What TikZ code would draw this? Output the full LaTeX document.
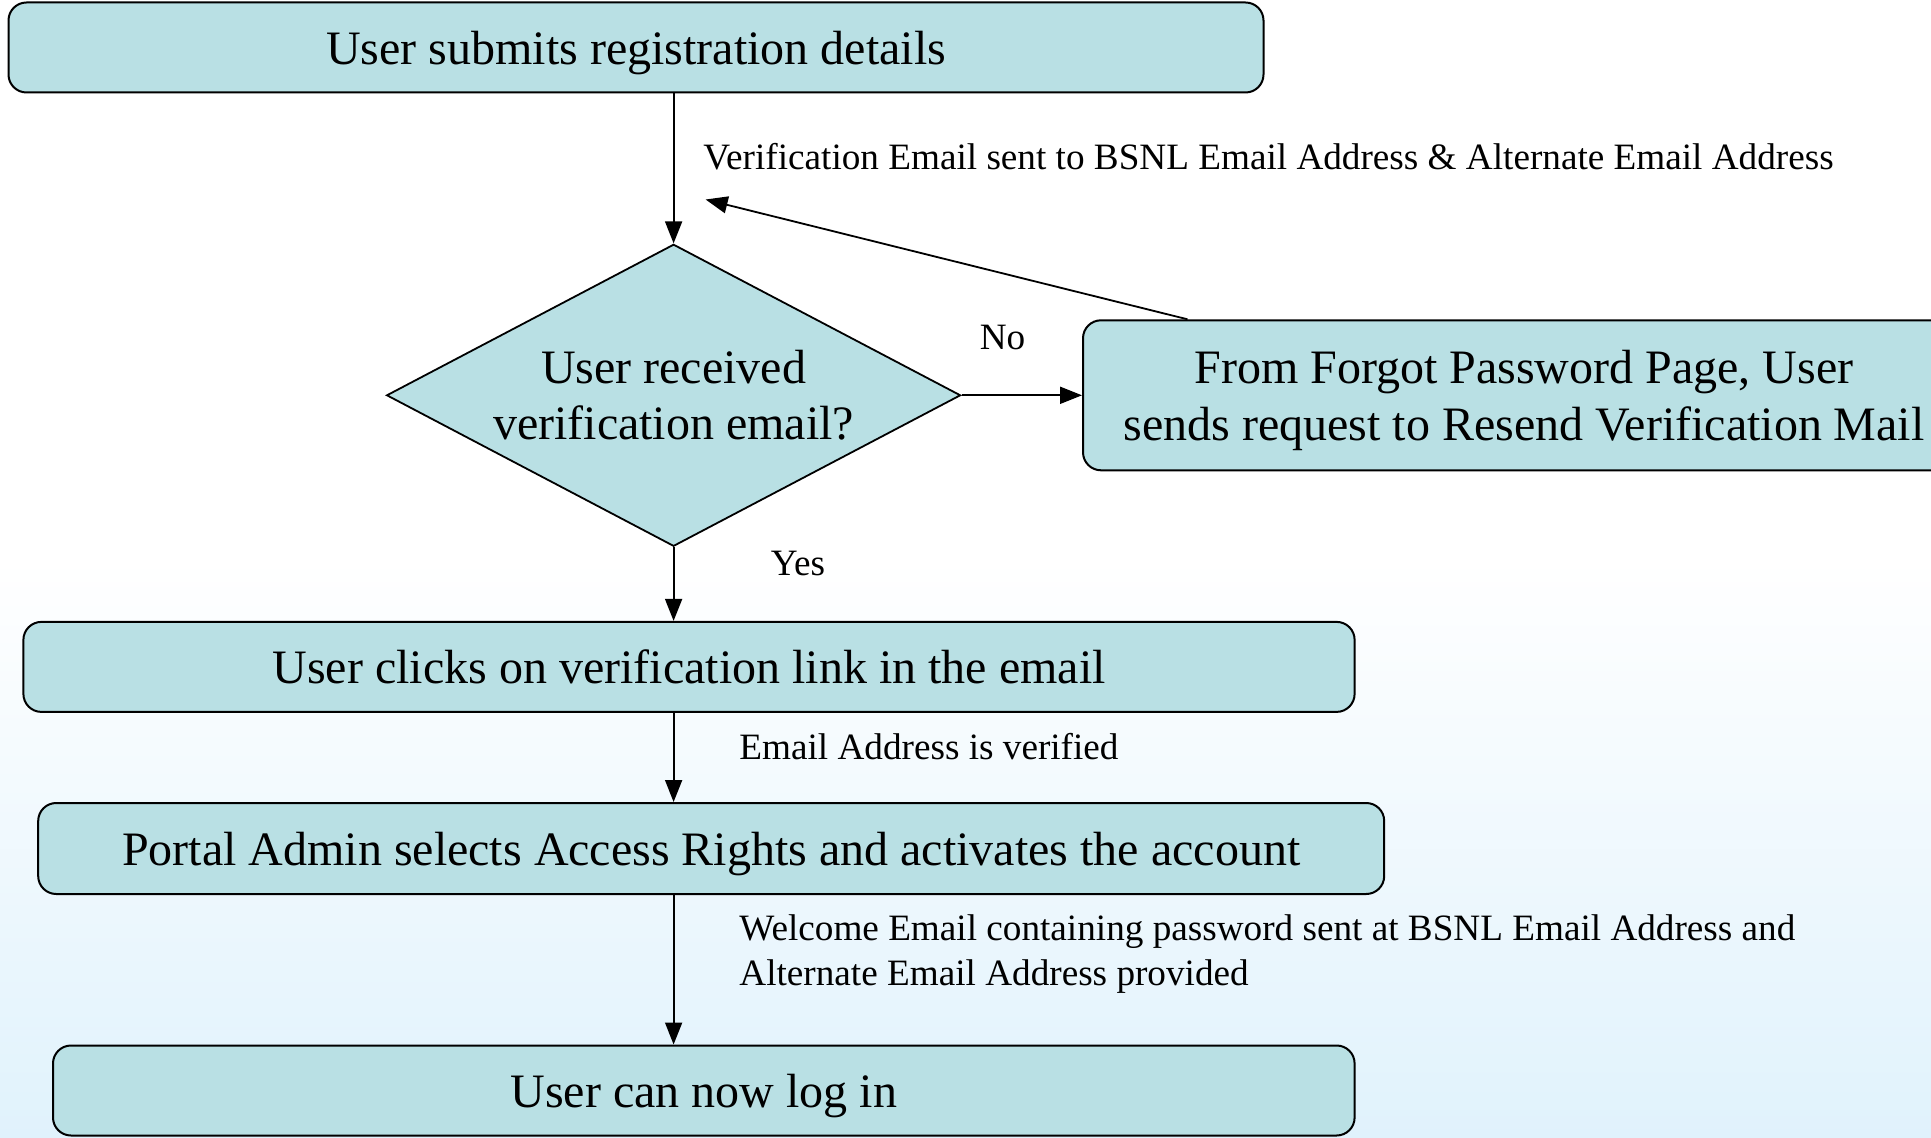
\documentclass[tikz,border=0pt]{standalone}
\usepackage{fontspec}
\setmainfont{Liberation Serif}
\usetikzlibrary{arrows.meta,shapes.geometric}
\definecolor{boxfill}{RGB}{185,224,228}
\definecolor{bgblue}{RGB}{224,242,252}
\tikzset{
  flowbox/.style={draw=black,line width=1pt,fill=boxfill,rounded corners=9pt,inner sep=0pt,
    text depth=0pt,font=\fontsize{24}{28.3}\selectfont,align=center},
  decision/.style={diamond,draw=black,line width=0.9pt,fill=boxfill,inner sep=0pt,shape aspect=1.9,
    minimum width=287pt,minimum height=151pt,font=\fontsize{24}{28.3}\selectfont,align=center},
  lbl/.style={inner sep=0pt,font=\fontsize{18.6}{22.8}\selectfont,align=left},
  arr/.style={line width=0.9pt,-{Triangle[length=11pt,width=8.5pt]}}
}
\begin{document}
\begin{tikzpicture}[x=0.5pt,y=-0.5pt]
\useasboundingbox (0,0) rectangle (1931,1138);
\clip (0,0) rectangle (1931,1138);
\fill[white] (0,0) rectangle (1931,560);
\shade[top color=white,bottom color=bgblue] (0,559) rectangle (1931,1138);

\node[flowbox,minimum width=627.5pt,minimum height=45pt] (b1) at (636,47.5) {User submits registration details};
\node[decision] (d) at (673.6,395.3) {User received\\verification email?};
\node[flowbox,minimum width=441pt,minimum height=75pt] (b2) at (1524,395.3) {From Forgot Password Page, User\\sends request to Resend Verification Mail};
\node[flowbox,minimum width=665.6pt,minimum height=45pt] (b3) at (689,666.9) {User clicks on verification link in the email};
\node[flowbox,minimum width=673pt,minimum height=45.5pt] (b4) at (711.2,848.5) {Portal Admin selects Access Rights and activates the account};
\node[flowbox,minimum width=650.8pt,minimum height=45pt] (b5) at (703.8,1090.5) {User can now log in};

\coordinate (fb) at (705.6,199.5);

\draw[arr] (b1.south -| d.north) -- (d.north);
\draw[arr] (d.east) -- (b2.west);
\draw[arr] ([xshift=52.75pt]b2.north west) -- (fb);
\draw[arr] (d.south) -- (b3.north -| d.south);
\draw[arr] (b3.south -| d.south) -- (b4.north -| d.south);
\draw[arr] (b4.south -| d.south) -- (b5.north -| d.south);

\node[lbl,anchor=west] (l1) at (703,156.4) {Verification Email sent to BSNL Email Address \& Alternate Email Address};
\node[lbl] (lno) at (1002.5,337.4) {No};
\node[lbl] (lyes) at (798,564) {Yes};
\node[lbl,anchor=west] (l2) at (739,747) {Email Address is verified};
\node[lbl,anchor=west] (l3) at (739,954) {Welcome Email containing password sent at BSNL Email Address and\\Alternate Email Address provided};
\end{tikzpicture}
\end{document}
